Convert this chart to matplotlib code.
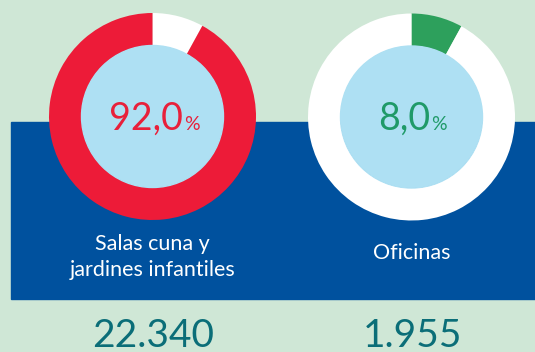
import matplotlib.pyplot as plt
from matplotlib.patches import Rectangle, Circle

# share of each category
categories = ["Salas cuna y\njardines infantiles", "Oficinas"]
shares = [92.0, 8.0]
share_labels = ["92,0", "8,0"]
totals = ["22.340", "1.955"]

bg = "#cfe7d6"
band = "#00519e"
inner = "#aee0f3"
ring_colors = ["#ed1b38", "#2da05c"]
pct_colors = ["#e8203a", "#1f9a68"]
total_color = "#0b6e78"

W, H = 535, 352
fig = plt.figure(figsize=(W / 100, H / 100), dpi=100)
fig.patch.set_facecolor(bg)
ax = fig.add_axes([0, 0, 1, 1])
ax.set_facecolor(bg)

# blue band behind the donuts
ax.add_patch(Rectangle((11, H - 299), W - 11, 299 - 122, color=band, zorder=0))

centers = [(152.5, H - 116.5), (411.5, H - 117)]
R, r = 103.5, 71

for i, (c, v) in enumerate(zip(centers, shares)):
    if v > 50:
        vals, cols = [100 - v, v], ["white", ring_colors[i]]
    else:
        vals, cols = [v, 100 - v], [ring_colors[i], "white"]
    ax.pie(vals, colors=cols, center=c, radius=R, startangle=90, counterclock=False,
           wedgeprops=dict(width=R - r, linewidth=0))
    ax.add_patch(Circle(c, r, color=inner, zorder=3))

fam = ["Lato", "DejaVu Sans"]

# percentage text: big number + small % sign
pct_right = [183, 430]
for i, c in enumerate(centers):
    ax.text(pct_right[i], H - 130, share_labels[i], color=pct_colors[i], fontsize=27,
            ha="right", va="baseline", family=fam, zorder=4)
    ax.text(pct_right[i] + 1, H - 130, "%", color=pct_colors[i], fontsize=14,
            ha="left", va="baseline", family=fam, zorder=4)

# category names (baseline of the last line)
label_y = [H - 276, H - 259]
for i, c in enumerate(centers):
    ax.text(c[0], label_y[i], categories[i], color="white", fontsize=15.5, ha="center",
            va="baseline", family=fam, linespacing=1.4, zorder=4)

for i, c in enumerate(centers):
    ax.text(c[0] + 1, H - 347, totals[i], color=total_color, fontsize=28, ha="center",
            va="baseline", family=fam)

ax.set_xlim(0, W)
ax.set_ylim(0, H)
ax.set_aspect("auto")
ax.axis("off")
fig.savefig("out.png", dpi=100, facecolor=bg)
